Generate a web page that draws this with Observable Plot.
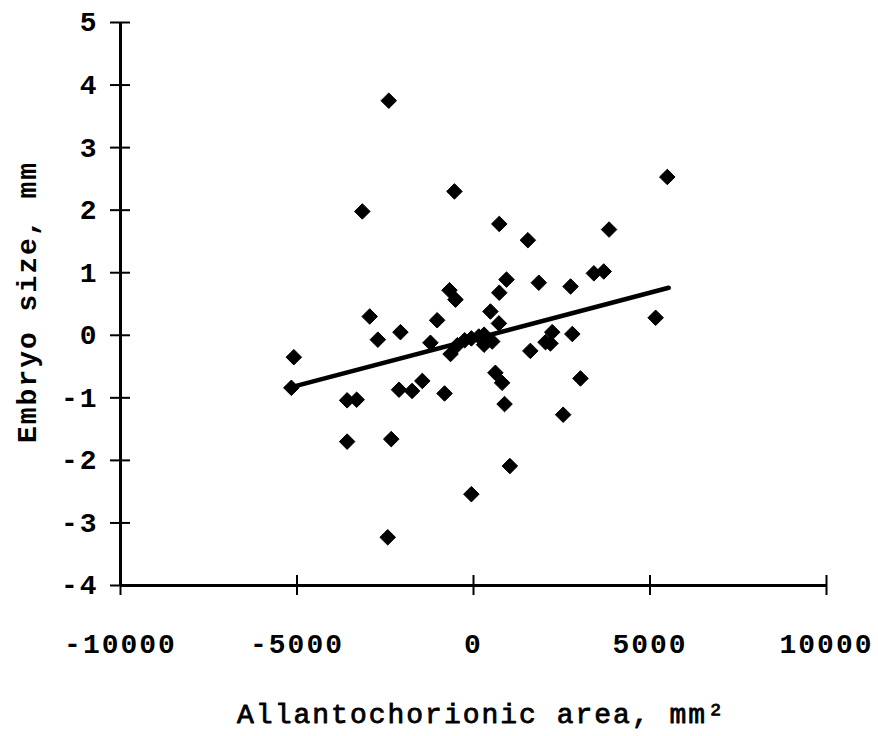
<!DOCTYPE html>
<html><head><meta charset="utf-8">
<script src="https://cdn.jsdelivr.net/npm/d3@7"></script>
<script src="https://cdn.jsdelivr.net/npm/@observablehq/plot@0.6"></script>
<style>body{margin:0;background:#fff}</style>
</head><body><div id="chart"></div>
<script>
const areaX = [-5090,-5160,-3580,-3310,-3580,-3150,-2940,-2710,-2400,-2330,-2430,-2070,-2110,-1740,-1450,-1220,-1030,-820,-650,-680,-510,-540,-460,-250,-60,150,300,300,530,480,730,720,730,935,620,810,880,1030,-60,1540,1610,1850,2040,2180,2230,2540,2750,2800,3030,3410,3690,3840,5160,5490];
const embryoY = [-0.35,-0.84,-1.04,-1.03,-1.70,1.98,0.30,-0.07,3.75,-1.66,-3.23,0.05,-0.87,-0.89,-0.73,-0.12,0.24,-0.93,-0.30,0.72,0.57,2.30,-0.16,-0.08,-0.05,-0.02,0.01,-0.15,-0.10,0.38,0.68,0.19,1.78,0.89,-0.60,-0.76,-1.10,-2.09,-2.54,1.52,-0.25,0.84,-0.11,-0.13,0.05,-1.27,0.78,0.02,-0.69,0.99,1.02,1.69,0.28,2.53];
const fitX = [-5160, 5530];
const fitY = [-0.83, 0.76];
const xTicks = [-10000, -5000, 0, 5000, 10000];
const yTicks = [-4, -3, -2, -1, 0, 1, 2, 3, 4, 5];
const xTitle = "Allantochorionic area, mm²";
const yTitle = "Embryo size, mm";

const W = 878, H = 736, mL = 120, mR = 52, mT = 22, mB = 151;
const innerH = H - mT - mB, innerW = W - mL - mR;
const points = areaX.map((x, i) => ({x, y: embryoY[i]}));
const fit = fitX.map((x, i) => ({x, y: fitY[i]}));
const font = '"Liberation Mono", "Courier New", monospace';

const plot = Plot.plot({
  width: W, height: H,
  marginLeft: mL, marginRight: mR, marginTop: mT, marginBottom: mB,
  style: {fontFamily: font, background: "#fff", color: "#000", letterSpacing: "2px"},
  x: {domain: [-10000, 10000]},
  y: {domain: [-4, 5]},
  marks: [
    Plot.axisX({ticks: xTicks, tickSize: 0, tickPadding: 48, tickFormat: d => String(d), fontSize: 28, fontWeight: "bold", label: null}),
    Plot.axisY({ticks: yTicks, tickSize: 0, tickPadding: 22, tickFormat: d => String(d), fontSize: 28, fontWeight: "bold", label: null}),
    Plot.ruleY([-4], {strokeWidth: 3}),
    Plot.ruleX([-10000], {strokeWidth: 3}),
    Plot.tickX(xTicks, {x: d => d, insetTop: innerH - 10, insetBottom: -10, strokeWidth: 2}),
    Plot.tickY(yTicks, {y: d => d, insetLeft: -10, insetRight: innerW - 10, strokeWidth: 2}),
    Plot.line(fit, {x: "x", y: "y", strokeWidth: 4.5, strokeLinecap: "round"}),
    Plot.dot(points, {x: "x", y: "y", symbol: "diamond2", r: 7, fill: "black", stroke: "black", strokeWidth: 1, strokeLinejoin: "round"}),
    Plot.text([xTitle], {text: d => d, frameAnchor: "bottom", textAnchor: "middle", dx: 8, dy: 129, lineAnchor: "middle", fontSize: 28, letterSpacing: "4px", fill: "black", stroke: "black", strokeWidth: 0.8}),
    Plot.text([yTitle], {text: d => d, frameAnchor: "left", textAnchor: "middle", dx: -93, dy: -2, rotate: -90, lineAnchor: "middle", fontSize: 28, fontWeight: "bold"})
  ]
});
document.getElementById("chart").appendChild(plot);
</script>
</body></html>
